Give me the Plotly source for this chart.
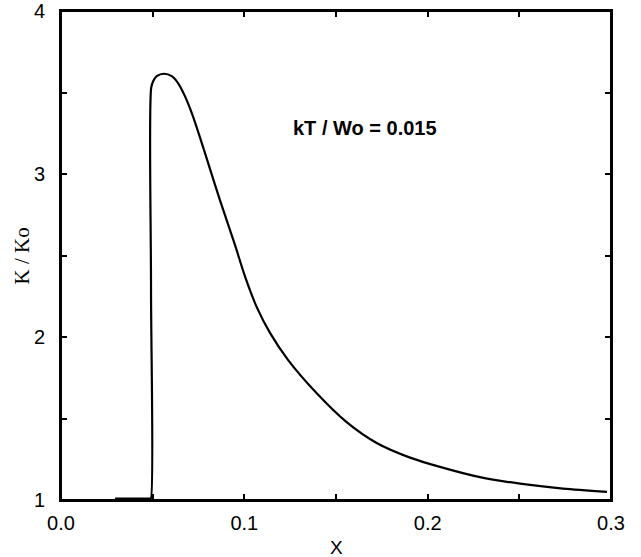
import plotly.graph_objects as go

x_vals = [0.0295, 0.0485, 0.0490, 0.0491, 0.0492, 0.0504, 0.0522, 0.0562, 0.0604,
          0.0640, 0.0676, 0.0713, 0.0758, 0.0813, 0.0867, 0.0949, 0.1004, 0.1069,
          0.1140, 0.1238, 0.1395, 0.1558, 0.1722, 0.1904, 0.2067, 0.2285, 0.2504,
          0.2738, 0.2978]
y_vals = [1.008, 1.008, 1.008, 2.3, 3.53, 3.572, 3.60, 3.615, 3.60,
          3.555, 3.478, 3.375, 3.225, 3.03, 2.84, 2.565, 2.37, 2.18,
          2.025, 1.86, 1.655, 1.478, 1.35, 1.26, 1.203, 1.14, 1.10,
          1.07, 1.05]

x_ticks = [0.0, 0.05, 0.1, 0.15, 0.2, 0.25, 0.3]
x_tick_text = ["0.0", "", "0.1", "", "0.2", "", "0.3"]
y_ticks = [1, 1.5, 2, 2.5, 3, 3.5, 4]
y_tick_text = ["1", "", "2", "", "3", "", "4"]

annotation_text = "kT / Wo = 0.015"
x_title = "X"
y_title = "K / Ko"

sans = "Liberation Sans, Arial, sans-serif"

fig = go.Figure()
fig.add_trace(go.Scatter(x=x_vals, y=y_vals, mode="lines", line_shape="spline",
                         line=dict(color="black", width=2.2, smoothing=0.8), showlegend=False))

axis_common = dict(showline=True, linecolor="black", linewidth=2, mirror="allticks",
                   ticks="inside", ticklen=6, tickwidth=1.5, tickcolor="black",
                   showgrid=False, zeroline=False, automargin=False,
                   ticklabeloverflow="allow",
                   tickfont=dict(family=sans, size=20, color="black"))

fig.update_layout(
    width=641, height=557,
    margin=dict(l=61, r=30, t=11, b=57),
    paper_bgcolor="white", plot_bgcolor="white",
    xaxis=dict(range=[0, 0.3], tickvals=x_ticks, ticktext=x_tick_text,
               ticklabelstandoff=4, **axis_common),
    yaxis=dict(range=[1, 4], tickvals=y_ticks, ticktext=y_tick_text,
               ticklabelstandoff=10, **axis_common),
    shapes=[dict(type="rect", xref="paper", yref="paper", x0=0, y0=0, x1=1, y1=1,
                 line=dict(color="black", width=2), layer="below")],
    annotations=[
        dict(x=0.166, y=3.28, xref="x", yref="y", text="<b>" + annotation_text + "</b>",
             showarrow=False, font=dict(family=sans, size=20, color="black")),
        dict(x=0.5, y=-0.098, xref="paper", yref="paper", text=x_title,
             showarrow=False, xanchor="center", yanchor="middle",
             font=dict(family=sans, size=19, color="black")),
        dict(x=-0.071, y=0.5, xref="paper", yref="paper", text=y_title, textangle=-90,
             showarrow=False, xanchor="center", yanchor="middle",
             font=dict(family="Liberation Serif, Times New Roman, serif", size=21, color="black")),
    ],
)

fig.write_html("out.html", config={"displayModeBar": False},
               post_script="document.body.style.margin='0';")
